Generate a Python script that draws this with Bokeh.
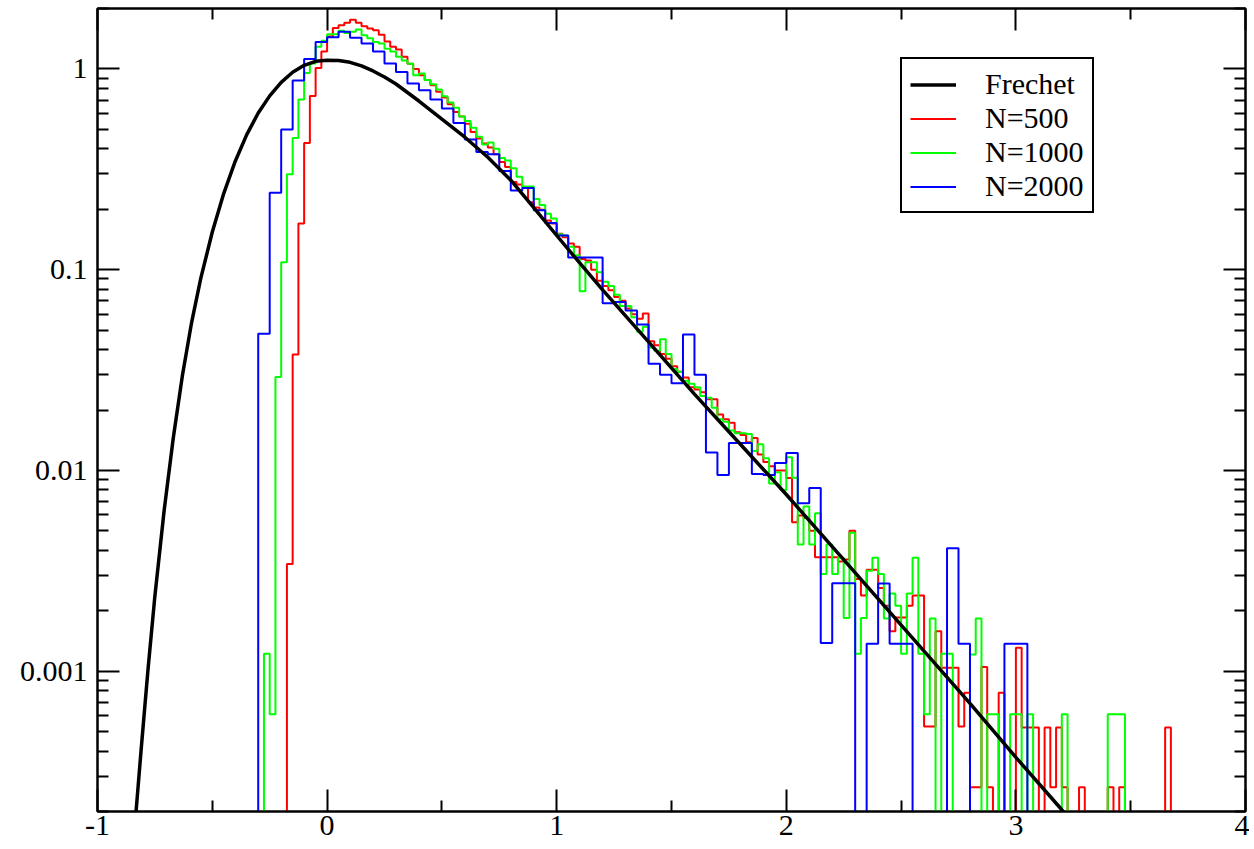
import numpy as np
from bokeh.plotting import figure
from bokeh.models import (Range1d, FixedTicker, NumeralTickFormatter, LinearAxis,
                          LogAxis, Legend, LegendItem, CustomJSTickFormatter)
from bokeh.embed import file_html
from bokeh.resources import INLINE

# ---------------- data ----------------
frechet_x = [-0.84, -0.81, -0.78, -0.75, -0.71, -0.67, -0.63, -0.59, -0.55, -0.50,
             -0.45, -0.40, -0.35, -0.30, -0.25, -0.20, -0.15, -0.10, -0.05,
             0.00, 0.05, 0.10, 0.15, 0.20, 0.25, 0.30, 0.40, 0.50, 0.60, 0.70, 0.80, 0.90,
             1.00, 1.10, 1.20, 1.40, 1.60, 1.80, 2.00, 2.20, 2.40, 2.60, 2.80, 3.00, 3.20, 3.25]
frechet_y = [0.000155, 0.000406, 0.00102, 0.00237, 0.00628, 0.0145, 0.0298, 0.0547, 0.0908, 0.154,
             0.240, 0.347, 0.471, 0.603, 0.734, 0.857, 0.962, 1.042, 1.091,
             1.104, 1.102, 1.079, 1.035, 0.977, 0.912, 0.841, 0.692, 0.562, 0.457, 0.363, 0.279, 0.204,
             0.148, 0.108, 0.0794, 0.0437, 0.0240, 0.0135, 0.00759, 0.00417, 0.00229, 0.00126,
             0.000692, 0.000372, 0.000204, 0.000174]

# N=500 histogram: first bin edge and bin width, then bin heights (0 = empty bin)
red_start = -0.175
red_width = 0.025
red_vals = [0.00342, 0.0378, 0.170, 0.428, 0.733, 1.01, 1.22, 1.45, 1.60, 1.65,
            1.70, 1.76, 1.70, 1.63, 1.59, 1.56, 1.48, 1.37, 1.29, 1.25,
            1.15, 1.06, 1.00, 0.93, 0.88, 0.83, 0.77, 0.72, 0.667, 0.61,
            0.58, 0.534, 0.485, 0.45, 0.425, 0.406, 0.376, 0.344, 0.325, 0.273,
            0.266, 0.258, 0.217, 0.204, 0.199, 0.176, 0.170, 0.151, 0.145, 0.135,
            0.130, 0.113, 0.111, 0.100, 0.088, 0.083, 0.079, 0.073, 0.070, 0.064,
            0.060, 0.057, 0.0605, 0.044, 0.042, 0.038, 0.036, 0.033, 0.031, 0.029,
            0.026, 0.0253, 0.0245, 0.0226, 0.0226, 0.019, 0.018, 0.0173, 0.0155, 0.0150,
            0.0138, 0.0145, 0.0120, 0.0110, 0.0105, 0.0100, 0.0100, 0.00918, 0.00552, 0.00596,
            0.0058, 0.0050, 0.00369, 0.00369, 0.00369, 0.00369, 0.00352, 0.0036, 0.00501, 0.00288,
            0.00238, 0.0032, 0.0032, 0.0026, 0.00212, 0.00158, 0.00185, 0.00185, 0.00212, 0.00238,
            0.00238, 0.00053, 0.00053, 0.00158, 0.00104, 0.00104, 0.00104, 0.00053, 0.00078, 0.000264,
            0.000264, 0.00105, 0.000264, 0, 0.00078, 0, 0, 0.00131, 0.000524, 0.000524,
            0.000524, 0, 0.000524, 0.000264, 0.000524, 0.000264, 0, 0, 0.000264, 0,
            0, 0, 0, 0.000264, 0, 0.000264, 0, 0, 0, 0,
            0, 0, 0, 0.000524]

# N=1000 histogram
green_start = -0.275
green_width = 0.025
green_vals = [0.00122, 0.00061, 0.0292, 0.109, 0.299, 0.453, 0.704, 0.955, 1.064, 1.288,
              1.38, 1.49, 1.49, 1.55, 1.51, 1.53, 1.57, 1.47, 1.42, 1.36,
              1.34, 1.26, 1.22, 1.15, 1.10, 1.06, 0.93, 0.95, 0.88, 0.84,
              0.79, 0.73, 0.68, 0.64, 0.58, 0.55, 0.51, 0.46, 0.42, 0.43,
              0.40, 0.36, 0.35, 0.32, 0.29, 0.26, 0.26, 0.225, 0.21, 0.19,
              0.18, 0.150, 0.148, 0.130, 0.118, 0.078, 0.109, 0.109, 0.097, 0.087,
              0.083, 0.075, 0.066, 0.066, 0.058, 0.049, 0.052, 0.041, 0.0395, 0.045,
              0.038, 0.032, 0.031, 0.028, 0.027, 0.026, 0.0235, 0.023, 0.0205, 0.018,
              0.0175, 0.0158, 0.0153, 0.0153, 0.0152, 0.0125, 0.0135, 0.0115, 0.0086, 0.0098,
              0.0080, 0.01164, 0.0092, 0.00428, 0.00661, 0.00428, 0.00612, 0.00305, 0.00428, 0.00305,
              0.00367, 0.00184, 0.00489, 0.00122, 0.00184, 0.00316, 0.00367, 0.00305, 0.00183, 0.00244,
              0.00212, 0.00122, 0.00244, 0.00367, 0.00122, 0.00061, 0.00183, 0, 0.00122, 0.00122,
              0, 0, 0, 0.00121, 0.00183, 0, 0.000611, 0.000611, 0, 0,
              0.000611, 0.000611, 0, 0.000611, 0, 0, 0, 0, 0, 0.000611,
              0, 0, 0, 0, 0, 0, 0, 0.000611, 0.000611, 0.000611]

# N=2000 histogram
blue_start = -0.30
blue_width = 0.05
blue_vals = [0.048, 0.242, 0.499, 0.875, 1.12, 1.36, 1.44, 1.53, 1.43, 1.34,
             1.22, 1.064, 0.966, 0.846, 0.783, 0.704, 0.635, 0.538, 0.445, 0.386,
             0.376, 0.310, 0.248, 0.255, 0.198, 0.171, 0.148, 0.115, 0.115, 0.115,
             0.068, 0.069, 0.0627, 0.0534, 0.034, 0.030, 0.0272, 0.0476, 0.030, 0.0123,
             0.0095, 0.0137, 0.0137, 0.0096, 0.0095, 0.0109, 0.0122, 0.00687, 0.00818, 0.00138,
             0.00274, 0.00274, 0, 0.00137, 0.00273, 0.00137, 0.00137, 0, 0, 0,
             0.0041, 0.00137, 0, 0, 0, 0.00137, 0.00137]

x_ticks = [-1, 0, 1, 2, 3, 4]
x_minor_ticks = [-0.5, 0.5, 1.5, 2.5, 3.5]
y_ticks = [0.001, 0.01, 0.1, 1]
y_minor_ticks = [m * 10.0 ** e for e in (-4, -3, -2, -1, 0) for m in range(2, 10)]

labels = ["Frechet", "N=500", "N=1000", "N=2000"]

FLOOR = 1e-6  # empty bins drop below the axis


def step_path(start, width, vals):
    xs, ys = [start], [FLOOR]
    for i, v in enumerate(vals):
        y = v if v > 0 else FLOOR
        x0 = start + i * width
        xs += [x0, x0 + width]
        ys += [y, y]
    xs.append(start + len(vals) * width)
    ys.append(FLOOR)
    return xs, ys


FONT = "Liberation Serif"

p = figure(width=1249, height=849, x_range=Range1d(-1, 4), y_range=Range1d(0.0002, 2),
           y_axis_type="log", output_backend="svg", toolbar_location=None,
           min_border_left=97, min_border_right=4, min_border_top=8, min_border_bottom=38)
p.xgrid.visible = False
p.ygrid.visible = False
p.outline_line_color = "black"
p.outline_line_width = 2
p.background_fill_color = "white"
p.border_fill_color = "white"


def style_axis(ax, ticks, minor, show_labels):
    ax.ticker = FixedTicker(ticks=ticks, minor_ticks=minor)
    ax.axis_line_color = "black"
    ax.axis_line_width = 2
    ax.major_tick_in = 22
    ax.major_tick_out = 0
    ax.minor_tick_in = 11
    ax.minor_tick_out = 0
    ax.major_tick_line_width = 2
    ax.minor_tick_line_width = 2
    ax.major_tick_line_color = "black"
    ax.minor_tick_line_color = "black"
    ax.major_label_text_font = FONT
    ax.major_label_text_color = "black"
    ax.major_label_text_font_size = "30px"
    if not show_labels:
        ax.formatter = CustomJSTickFormatter(code="return ''")
        ax.major_label_standoff = 0


xa = p.xaxis[0]
style_axis(xa, x_ticks, x_minor_ticks, True)
xa.formatter = NumeralTickFormatter(format="0")
xa.major_label_standoff = 4

ya = p.yaxis[0]
style_axis(ya, y_ticks, y_minor_ticks, True)
ya.formatter = NumeralTickFormatter(format="0.[000]")
ya.major_label_standoff = 10

top = LinearAxis()
style_axis(top, x_ticks, x_minor_ticks, False)
p.add_layout(top, "above")
right = LogAxis()
style_axis(right, y_ticks, y_minor_ticks, False)
p.add_layout(right, "right")

rx, ry = step_path(red_start, red_width, red_vals)
gx, gy = step_path(green_start, green_width, green_vals)
bx, by = step_path(blue_start, blue_width, blue_vals)

r_red = p.line(rx, ry, line_color="#ff0000", line_width=2)
r_green = p.line(gx, gy, line_color="#00ff00", line_width=2)
r_blue = p.line(bx, by, line_color="#0000ff", line_width=2)
r_black = p.line(frechet_x, frechet_y, line_color="black", line_width=3.5)

legend = Legend(items=[LegendItem(label=labels[0], renderers=[r_black]),
                       LegendItem(label=labels[1], renderers=[r_red]),
                       LegendItem(label=labels[2], renderers=[r_green]),
                       LegendItem(label=labels[3], renderers=[r_blue])],
                location=(803, 598))
legend.label_text_font = FONT
legend.label_text_font_size = "30px"
legend.label_text_color = "black"
legend.border_line_color = "black"
legend.border_line_width = 2
legend.border_line_alpha = 1
legend.background_fill_color = "white"
legend.background_fill_alpha = 1
legend.padding = 8
legend.spacing = 0
legend.margin = 0
legend.glyph_width = 46
legend.glyph_height = 33
legend.label_height = 33
legend.label_standoff = 29
p.add_layout(legend)

open("out.html", "w").write(file_html(p, INLINE))
